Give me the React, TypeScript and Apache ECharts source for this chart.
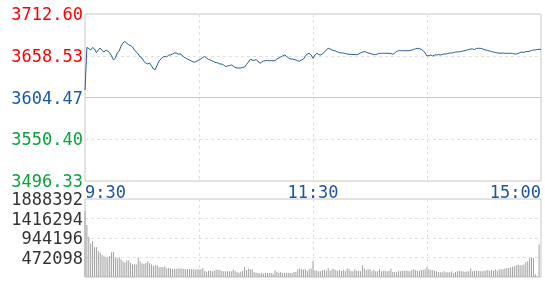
import React, { useEffect, useRef } from "react";
import * as echarts from "echarts";

// Previous close (centre line of the price axis)
const preClose = 3604.47;

// Price-axis tick labels, bottom to top
const priceTickLabels = ["3496.33", "3550.40", "3604.47", "3658.53", "3712.60"];
const priceTickColors = ["#0aa33c", "#0aa33c", "#1a5aa8", "#ff0000", "#ff0000"];

// Minute categories: 9:30..11:30 then 13:01..15:00
const times: string[] = [];
for (let m = 9 * 60 + 30; m <= 11 * 60 + 30; m++) times.push(`${Math.floor(m / 60)}:${String(m % 60).padStart(2, "0")}`);
for (let m = 13 * 60 + 1; m <= 15 * 60; m++) times.push(`${Math.floor(m / 60)}:${String(m % 60).padStart(2, "0")}`);

// Minute prices
const prices = [
  3614.18, 3669.22, 3667.92, 3665.98, 3669.22, 3667.28, 3662.74, 3665.98, 3668.57, 3665.33,
  3663.39, 3665.98, 3664.69, 3662.10, 3658.21, 3653.03, 3655.62, 3662.10, 3664.69, 3671.16,
  3675.05, 3676.99, 3675.05, 3672.46, 3671.81, 3669.87, 3665.98, 3663.39, 3660.80, 3656.92,
  3655.62, 3651.09, 3649.15, 3647.85, 3649.15, 3645.26, 3641.38, 3640.73, 3646.56, 3651.74,
  3654.33, 3656.92, 3657.56, 3656.92, 3659.51, 3659.51, 3660.80, 3662.10, 3662.10, 3660.80,
  3660.80, 3659.51, 3656.92, 3655.62, 3654.33, 3653.03, 3651.74, 3650.44, 3650.44, 3651.74,
  3653.03, 3654.33, 3656.27, 3657.56, 3655.62, 3653.68, 3653.03, 3651.74, 3650.44, 3649.79,
  3649.15, 3647.85, 3647.85, 3646.56, 3644.61, 3645.26, 3645.91, 3646.56, 3645.26, 3643.32,
  3642.67, 3642.67, 3642.67, 3643.32, 3643.97, 3647.20, 3650.44, 3653.94, 3653.03, 3652.38,
  3653.68, 3651.74, 3648.76, 3650.44, 3651.74, 3652.12, 3652.40, 3652.05, 3652.30, 3652.12,
  3652.20, 3654.33, 3655.62, 3656.92, 3658.21, 3659.51, 3658.21, 3655.62, 3654.33, 3654.33,
  3653.68, 3653.03, 3651.74, 3651.74, 3653.03, 3654.33, 3658.21, 3660.80, 3661.71, 3659.51,
  3655.23, 3659.51, 3661.71, 3660.15, 3659.51, 3660.80, 3663.39, 3665.98, 3668.18, 3667.28,
  3665.98, 3665.07, 3664.69, 3663.39, 3662.48, 3662.10, 3662.10, 3661.45, 3660.80, 3660.41,
  3660.41, 3660.15, 3660.15, 3659.89, 3660.80, 3662.10, 3663.39, 3663.78, 3663.39, 3662.10,
  3661.71, 3660.80, 3659.89, 3660.15, 3660.80, 3661.71, 3661.60, 3661.80, 3661.71, 3661.65,
  3661.71, 3661.45, 3660.41, 3662.10, 3664.04, 3665.07, 3665.20, 3665.07, 3665.00, 3665.07,
  3665.15, 3665.07, 3665.98, 3666.63, 3667.66, 3668.18, 3667.92, 3666.63, 3665.07, 3662.10,
  3658.21, 3658.86, 3659.51, 3658.21, 3659.51, 3659.51, 3660.15, 3659.51, 3660.15, 3660.80,
  3660.80, 3661.45, 3662.10, 3662.10, 3662.74, 3663.39, 3663.39, 3663.78, 3664.04, 3664.69,
  3665.07, 3665.98, 3666.63, 3667.28, 3667.28, 3666.63, 3667.92, 3668.18, 3668.18, 3667.66,
  3666.63, 3665.98, 3665.33, 3664.69, 3664.04, 3663.39, 3662.74, 3662.10, 3662.10, 3661.71,
  3662.10, 3661.71, 3661.60, 3661.71, 3661.80, 3661.45, 3660.80, 3660.80, 3661.45, 3662.74,
  3663.39, 3662.74, 3664.04, 3664.04, 3664.30, 3665.33, 3665.98, 3665.98, 3666.63, 3666.89,
  3666.89,
];

// Minute volumes
const volumes = [
  1600000, 1260000, 975000, 810000, 870000, 720000, 725000, 625000, 590000, 530000,
  505000, 470000, 485000, 510000, 600000, 605000, 470000, 445000, 480000, 430000,
  380000, 350000, 405000, 400000, 345000, 300000, 310000, 305000, 470000, 380000,
  330000, 315000, 340000, 380000, 330000, 300000, 275000, 285000, 285000, 235000,
  240000, 245000, 260000, 210000, 215000, 210000, 195000, 200000, 200000, 205000,
  205000, 205000, 195000, 190000, 195000, 190000, 185000, 190000, 180000, 185000,
  190000, 187000, 219000, 146000, 130000, 154000, 154000, 138000, 154000, 178000,
  178000, 178000, 146000, 138000, 138000, 138000, 138000, 138000, 178000, 146000,
  122000, 105000, 130000, 146000, 251000, 170000, 203000, 187000, 187000, 122000,
  105000, 105000, 89000, 105000, 81000, 97000, 97000, 97000, 97000, 81000,
  162000, 122000, 105000, 122000, 97000, 105000, 105000, 105000, 97000, 97000,
  122000, 130000, 187000, 203000, 187000, 178000, 187000, 146000, 187000, 205000,
  381000, 162000, 154000, 138000, 138000, 162000, 178000, 154000, 219000, 154000,
  187000, 187000, 170000, 154000, 170000, 146000, 178000, 146000, 203000, 187000,
  154000, 138000, 187000, 154000, 154000, 138000, 284000, 203000, 162000, 187000,
  187000, 138000, 178000, 138000, 138000, 187000, 138000, 154000, 154000, 138000,
  154000, 203000, 122000, 122000, 114000, 138000, 138000, 154000, 154000, 154000,
  154000, 138000, 170000, 187000, 162000, 146000, 154000, 170000, 178000, 187000,
  235000, 187000, 170000, 170000, 154000, 138000, 122000, 114000, 114000, 138000,
  114000, 114000, 114000, 138000, 89000, 122000, 138000, 154000, 138000, 138000,
  122000, 138000, 138000, 203000, 138000, 154000, 154000, 154000, 138000, 138000,
  154000, 154000, 170000, 154000, 170000, 154000, 187000, 154000, 187000, 187000,
  187000, 203000, 219000, 219000, 235000, 251000, 260000, 284000, 300000, 284000,
  284000, 300000, 357000, 381000, 446000, 462000, 462000, 65000, 20000, 787000,
  0,
];

const volumeMax = 1888392;
const volumeStep = 472098;

const FONT = "'DejaVu Sans Mono', monospace";
const FONT_SIZE = 17;
const GRID_BORDER = "#c8c8c8";
const DASH = { color: "#e0e0e0", type: [3, 3] as any, width: 1 };

export default function App() {
  const ref = useRef<HTMLDivElement>(null);
  useEffect(() => {
    if (!ref.current) return;
    const chart = echarts.init(ref.current, null, { renderer: "svg" });
    const pct = prices.map((p) => (p / preClose - 1) * 100);
    const vLine = (i: number) => i === 60 || i === 120 || i === 180;
    chart.setOption({
      animation: false,
      grid: [
        { left: 85, top: 14, right: 4, height: 167, show: true, borderColor: GRID_BORDER, borderWidth: 1 },
        { left: 85, top: 199, right: 4, height: 78, show: true, borderColor: GRID_BORDER, borderWidth: 1 },
      ],
      xAxis: [
        {
          type: "category",
          gridIndex: 0,
          data: times,
          boundaryGap: false,
          axisLine: { show: false },
          axisTick: { show: false },
          axisLabel: {
            interval: (i: number) => i === 0 || i === 120 || i === 240,
            color: "#1f55a0",
            fontFamily: FONT,
            fontSize: FONT_SIZE,
            margin: 2,
            alignMinLabel: "left",
            alignMaxLabel: "right",
          },
          splitLine: { show: true, interval: vLine, lineStyle: DASH },
        },
        {
          type: "category",
          gridIndex: 1,
          data: times,
          boundaryGap: false,
          axisLine: { show: false },
          axisTick: { show: false },
          axisLabel: { show: false },
          splitLine: { show: true, interval: vLine, lineStyle: DASH },
        },
      ],
      yAxis: [
        {
          type: "value",
          gridIndex: 0,
          min: -3,
          max: 3,
          interval: 1.5,
          axisLine: { show: false },
          axisTick: { show: false },
          axisLabel: {
            showMinLabel: true,
            showMaxLabel: true,
            margin: 2,
            fontFamily: FONT,
            fontSize: FONT_SIZE,
            formatter: (v: number) => priceTickLabels[Math.round((v + 3) / 1.5)],
            color: (v: any) => priceTickColors[Math.round((Number(v) + 3) / 1.5)],
          },
          splitLine: { show: true, lineStyle: DASH },
        },
        {
          type: "value",
          gridIndex: 1,
          min: 0,
          max: volumeMax,
          interval: volumeStep,
          axisLine: { show: false },
          axisTick: { show: false },
          axisLabel: {
            showMinLabel: false,
            showMaxLabel: true,
            margin: 2,
            fontFamily: FONT,
            fontSize: FONT_SIZE,
            color: "#333333",
            formatter: (v: number) => String(v),
          },
          splitLine: { show: true, lineStyle: DASH },
        },
      ],
      series: [
        {
          type: "line",
          xAxisIndex: 0,
          yAxisIndex: 0,
          data: pct,
          symbol: "none",
          lineStyle: { color: "#2a5b9c", width: 1 },
          markLine: {
            silent: true,
            symbol: "none",
            label: { show: false },
            lineStyle: { color: GRID_BORDER, type: "solid", width: 1 },
            data: [{ yAxis: 0 }],
          },
        },
        {
          type: "bar",
          xAxisIndex: 1,
          yAxisIndex: 1,
          data: volumes,
          barWidth: 1,
          itemStyle: { color: "#a0a0a0" },
        },
      ],
    });
    return () => chart.dispose();
  }, []);
  return <div ref={ref} style={{ position: "fixed", left: 0, top: 0, width: 545, height: 300 }} />;
}
